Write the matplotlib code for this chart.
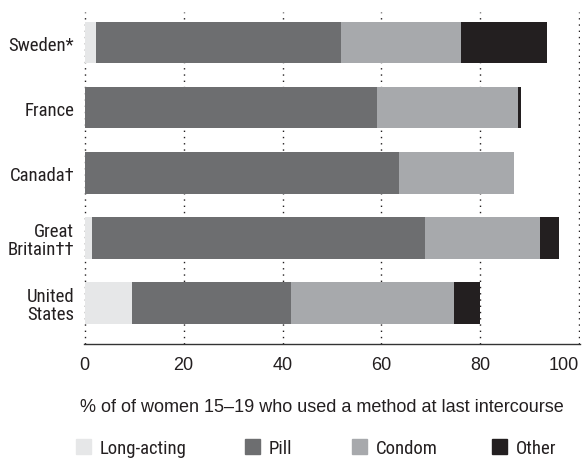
import matplotlib
matplotlib.use('Agg')
import matplotlib.pyplot as plt
import matplotlib.patches as mpatches
from matplotlib import font_manager
import numpy as np

# Data (% of women 15-19)
countries = ['Sweden*', 'France', 'Canada\u2020', 'Great\nBritain\u2020\u2020', 'United\nStates']
long_acting = [2.2, 0.0, 0.0, 1.4, 9.5]
pill = [49.7, 59.2, 63.6, 67.5, 32.3]
condom = [24.2, 28.4, 23.2, 23.1, 32.9]
other = [17.4, 0.6, 0.0, 3.9, 5.3]
methods = ['Long-acting', 'Pill', 'Condom', 'Other']
colors = ['#e6e7e8', '#6d6e70', '#a7a9ac', '#231f20']
xticks = [0, 20, 40, 60, 80, 100]
xlabel = '% of of women 15\u201319 who used a method at last intercourse'


def narrow_font(size):
    # look for a condensed sans on the system
    files = [f.fname for f in font_manager.fontManager.ttflist]
    for key in ['LiberationSansNarrow-Regular', 'RobotoCondensed-Regular',
                'DejaVuSansCondensed.ttf', 'NotoSans-Condensed', 'OpenSans_Condensed-Regular']:
        for fn in files:
            if key in fn:
                return font_manager.FontProperties(fname=fn, size=size), True
    return font_manager.FontProperties(family='Roboto', size=size * 0.86), False


cond, found = narrow_font(13.5)
regular = 'Liberation Sans'

fig = plt.figure(figsize=(5.82, 4.6), dpi=100)
ax = fig.add_axes([0.1443, 0.2507, 0.853, 0.7221])

y = np.arange(len(countries))[::-1]
left = np.zeros(len(countries))
for vals, name, c in zip([long_acting, pill, condom, other], methods, colors):
    ax.barh(y, vals, left=left, height=0.64, color=c, linewidth=0, label=name, zorder=2)
    left += np.array(vals)

ax.set_xlim(-0.15, 100.25)
ax.set_ylim(-0.625, 4.476)

# dotted gridlines behind the bars
for t in xticks:
    ax.axvline(t, linestyle=(0, (1, 3.5)), linewidth=1.0, color='#231f20', zorder=1)

for s in ['top', 'right', 'left']:
    ax.spines[s].set_visible(False)
ax.spines['bottom'].set_color('#333333')
ax.spines['bottom'].set_linewidth(1.0)
ax.spines['bottom'].set_zorder(3)

ax.set_xticks(xticks)
ax.tick_params(axis='x', length=0, pad=9, labelsize=13, labelcolor='#231f20')
ax.tick_params(axis='y', length=0, pad=7)
ax.set_xticklabels([str(t) for t in xticks], fontfamily=regular)
ax.get_xticklabels()[-1].set_horizontalalignment('right')

ax.set_yticks(y)
ax.set_yticklabels(countries, fontproperties=cond, color='#231f20', linespacing=1.0)

ax.set_xlabel(xlabel, fontfamily=regular, fontsize=13, color='#231f20')
ax.xaxis.set_label_coords(0.479, -0.165)

# legend entries placed one by one, like the original
legend_x = [76, 245, 352, 492]
for m, c, px in zip(methods, colors, legend_x):
    leg = fig.legend(handles=[mpatches.Patch(color=c, label=m)], loc='center left',
                     bbox_to_anchor=(px / 582, 0.024), frameon=False, prop=cond,
                     handlelength=0.8, handleheight=0.8, handletextpad=0.45,
                     borderaxespad=0, borderpad=0, labelcolor='#231f20')

fig.savefig('out.png', dpi=100)
